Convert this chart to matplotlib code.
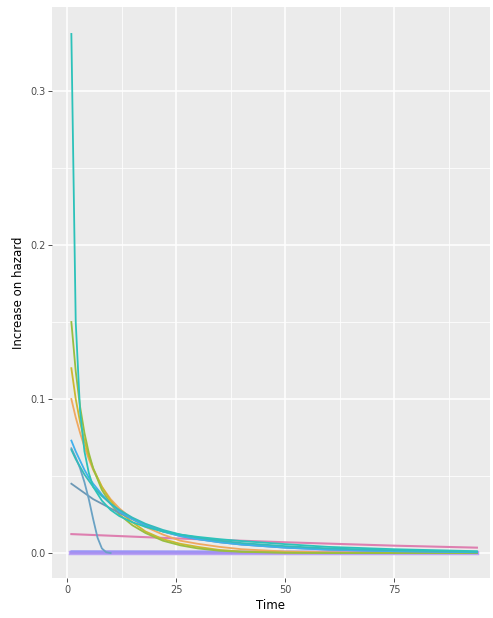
import matplotlib
matplotlib.use("Agg")
import matplotlib.pyplot as plt

# Common time grid for the decaying curves
time = [1, 2, 3, 4, 5, 6, 8, 10, 12, 15, 18, 22, 26, 30, 35, 40, 50, 60, 75, 94]

cyan_top = [0.337, 0.150, 0.092, 0.066, 0.052, 0.043, 0.034, 0.028, 0.024, 0.020,
            0.017, 0.014, 0.012, 0.0105, 0.009, 0.0078, 0.0058, 0.004, 0.0025, 0.0012]
green = [0.150, 0.118, 0.095, 0.078, 0.065, 0.055, 0.041, 0.032, 0.025, 0.018,
         0.013, 0.008, 0.005, 0.003, 0.0015, 0.0008, 0.0002, 0.0, 0.0, 0.0]
olive = [0.120, 0.100, 0.085, 0.073, 0.063, 0.055, 0.043, 0.034, 0.027, 0.020,
         0.014, 0.009, 0.006, 0.004, 0.002, 0.001, 0.0003, 0.0001, 0.0, 0.0]
orange = [0.100, 0.088, 0.078, 0.069, 0.061, 0.054, 0.043, 0.035, 0.029, 0.022,
          0.017, 0.012, 0.008, 0.006, 0.004, 0.0025, 0.001, 0.0005, 0.0001, 0.0]
light_blue = [0.073, 0.066, 0.060, 0.054, 0.049, 0.045, 0.038, 0.032, 0.027, 0.022,
              0.018, 0.014, 0.011, 0.009, 0.007, 0.0055, 0.0035, 0.0022, 0.0012, 0.0005]
teal = [0.067, 0.061, 0.056, 0.051, 0.047, 0.043, 0.037, 0.032, 0.028, 0.023,
        0.019, 0.015, 0.012, 0.010, 0.008, 0.0065, 0.0045, 0.003, 0.0018, 0.0008]
slate = [0.045, 0.043, 0.041, 0.039, 0.037, 0.035, 0.032, 0.029, 0.026, 0.022,
         0.018, 0.014, 0.011, 0.009, 0.007, 0.0055, 0.0035, 0.0022, 0.0012, 0.0005]

# Short, steeply falling curve
time_steep = [1, 2, 3, 4, 5, 6, 7, 8, 9, 10]
steep = [0.068, 0.062, 0.055, 0.046, 0.035, 0.022, 0.010, 0.003, 0.0005, 0.0]

# Nearly flat curves
time_flat = [1, 25, 50, 75, 94]
rose = [0.0123, 0.0095, 0.007, 0.0048, 0.0035]
violet = [0.0012, 0.0011, 0.0010, 0.0009, 0.0008]
purple = [0.0004, 0.0004, 0.0003, 0.0003, 0.0003]
lavender = [0.0, 0.0, 0.0, 0.0, 0.0]

fig = plt.figure(figsize=(4.93, 6.18), dpi=100)
ax = fig.add_axes([52 / 493, 40 / 618, 438 / 493, 571 / 618])
ax.set_facecolor("#EBEBEB")

# ggplot-like grid
for v in [12.5, 37.5, 62.5, 87.5]:
    ax.axvline(v, color="white", lw=0.55, zorder=0)
for v in [0, 25, 50, 75]:
    ax.axvline(v, color="white", lw=1.1, zorder=0)
for v in [0.05, 0.15, 0.25]:
    ax.axhline(v, color="white", lw=0.55, zorder=0)
for v in [0.0, 0.1, 0.2, 0.3]:
    ax.axhline(v, color="white", lw=1.1, zorder=0)

lw = 1.3
ax.plot(time_flat, lavender, color="#B9A2F5", lw=3.2, zorder=2)
ax.plot(time_flat, purple, color="#A890F0", lw=2.0, zorder=2)
ax.plot(time_flat, violet, color="#9A94F5", lw=1.3, zorder=2)
ax.plot(time_flat, rose, color="#DE7FB0", lw=1.5, zorder=2)

ax.plot(time, orange, color="#F0A860", lw=lw, zorder=3)
ax.plot(time, olive, color="#CCB830", lw=lw, zorder=3)
ax.plot(time, green, color="#98BE40", lw=lw, zorder=3)
ax.plot(time, slate, color="#6C98B5", lw=lw, zorder=3)
ax.plot(time_steep, steep, color="#6AA2C4", lw=lw, zorder=3)
ax.plot(time, light_blue, color="#40B0EC", lw=lw, zorder=3)
ax.plot(time, teal, color="#35BABA", lw=lw, zorder=3)
ax.plot(time, cyan_top, color="#2CC2BA", lw=lw, zorder=4)

ax.set_xlim(-3.44, 97.0)
ax.set_ylim(-0.0162, 0.3545)
ax.set_xticks([0, 25, 50, 75])
ax.set_xticklabels(["0", "25", "50", "75"])
ax.set_yticks([0.0, 0.1, 0.2, 0.3])
ax.set_yticklabels(["0.0", "0.1", "0.2", "0.3"])
ax.tick_params(axis="both", colors="#333333", labelcolor="#4D4D4D",
               labelsize=7, length=2.7, width=0.6, pad=2)
for s in ax.spines.values():
    s.set_visible(False)

ax.set_xlabel("Time", fontsize=8.5, color="black", labelpad=3)
ax.set_ylabel("Increase on hazard", fontsize=8.5, color="black", labelpad=4)

fig.savefig("out.png", dpi=100, facecolor="white")
